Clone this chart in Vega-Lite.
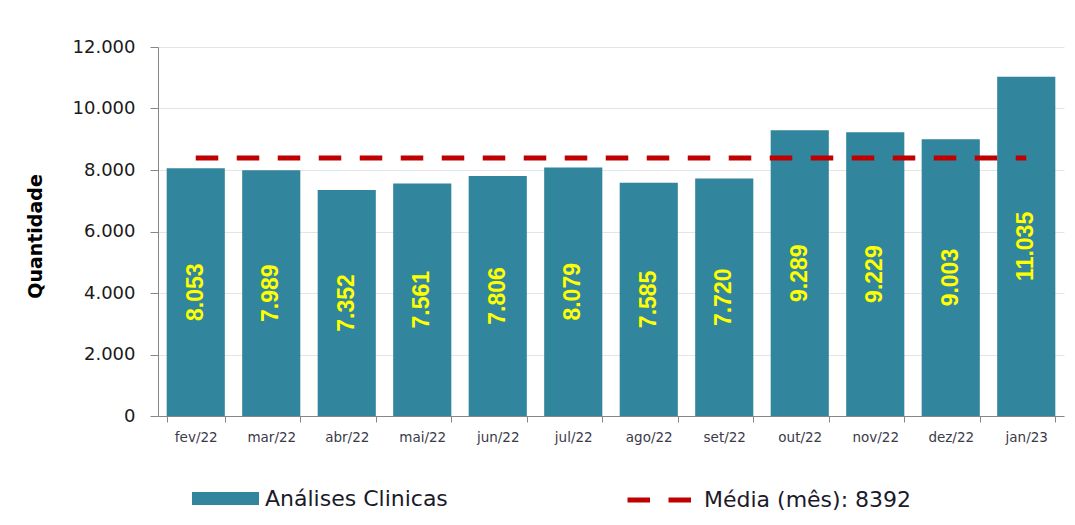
{
  "$schema": "https://vega.github.io/schema/vega-lite/v6.json",
  "width": 906,
  "height": 369,
  "autosize": {"type": "none"},
  "padding": {"left": 158, "top": 47, "right": 11, "bottom": 109},
  "background": "#ffffff",
  "config": {
    "view": {"stroke": null},
    "locale": {"number": {"decimal": ",", "thousands": ".", "grouping": [3], "currency": ["R$", ""]}},
    "font": "DejaVu Sans"
  },
  "datasets": {
    "meses": [
      {"mes": "fev/22", "valor": 8053},
      {"mes": "mar/22", "valor": 7989},
      {"mes": "abr/22", "valor": 7352},
      {"mes": "mai/22", "valor": 7561},
      {"mes": "jun/22", "valor": 7806},
      {"mes": "jul/22", "valor": 8079},
      {"mes": "ago/22", "valor": 7585},
      {"mes": "set/22", "valor": 7720},
      {"mes": "out/22", "valor": 9289},
      {"mes": "nov/22", "valor": 9229},
      {"mes": "dez/22", "valor": 9003},
      {"mes": "jan/23", "valor": 11035}
    ],
    "media": [
      {"serie": "Média (mês): 8392", "inicio": "fev/22", "fim": "jan/23", "valor": 8392}
    ]
  },
  "layer": [
    {
      "data": {"name": "meses"},
      "mark": {"type": "bar"},
      "encoding": {
        "x": {
          "field": "mes", "type": "ordinal", "sort": null, "title": null,
          "scale": {
            "domain": ["fev/22","mar/22","abr/22","mai/22","jun/22","jul/22","ago/22","set/22","out/22","nov/22","dez/22","jan/23"],
            "paddingInner": 0.23, "paddingOuter": 0.115
          },
          "axis": {
            "labelAngle": 0, "labelFont": "DejaVu Sans", "labelFontSize": 13.5, "labelColor": "#3a3a48",
            "labelPadding": 8, "tickBand": "extent", "tickSize": 6, "tickColor": "#868686",
            "domainColor": "#868686", "domainWidth": 1, "grid": false
          }
        },
        "y": {
          "field": "valor", "type": "quantitative", "title": "Quantidade",
          "scale": {"domain": [0, 12000], "nice": false},
          "axis": {
            "values": [0, 2000, 4000, 6000, 8000, 10000, 12000],
            "format": ",.0f",
            "labelFont": "DejaVu Sans", "labelFontSize": 18, "labelColor": "#1a1a1a", "labelPadding": 15,
            "tickSize": 8, "tickColor": "#868686", "domainColor": "#868686",
            "grid": true, "gridColor": "#e4e4e4", "gridWidth": 1,
            "titleFont": "DejaVu Sans", "titleFontSize": 19, "titleFontWeight": "bold", "titleColor": "#000000",
            "titleAngle": 270, "titleX": -123, "titleY": 189, "titleAlign": "center", "titleBaseline": "middle"
          }
        },
        "fill": {
          "datum": "Análises Clinicas", "type": "nominal",
          "scale": {"range": ["#31859C"]},
          "legend": {
            "title": null, "orient": "none", "legendX": 34, "legendY": 418,
            "symbolType": "M-1,-0.194L1,-0.194L1,0.194L-1,0.194Z", "symbolSize": 4489,
            "symbolStrokeWidth": 0, "symbolOpacity": 1, "labelLimit": 500,
            "labelFont": "DejaVu Sans", "labelFontSize": 22, "labelColor": "#1a1a2a", "labelOffset": 6
          }
        }
      }
    },
    {
      "data": {"name": "meses"},
      "transform": [{"calculate": "datum.valor / 2", "as": "meio"}],
      "mark": {
        "type": "text", "angle": 270, "align": "center", "baseline": "middle",
        "font": "Liberation Sans", "fontWeight": "bold", "fontSize": 23,
        "color": "#FFFF00"
      },
      "encoding": {
        "x": {"field": "mes", "type": "ordinal", "sort": null, "title": null},
        "y": {"field": "meio", "type": "quantitative", "title": "Quantidade"},
        "text": {"field": "valor", "type": "quantitative", "format": ",.0f"}
      }
    },
    {
      "data": {"name": "media"},
      "mark": {"type": "rule", "strokeWidth": 5, "color": "#C00000"},
      "encoding": {
        "x": {"field": "inicio", "type": "ordinal", "sort": null, "title": null},
        "x2": {"field": "fim"},
        "y": {"field": "valor", "type": "quantitative", "title": "Quantidade"},
        "strokeDash": {
          "field": "serie", "type": "nominal",
          "scale": {"range": [[22.5, 18.5]]},
          "legend": {
            "title": null, "orient": "none", "legendX": 467, "legendY": 418,
            "symbolType": "stroke", "symbolSize": 4225, "symbolStrokeColor": "#C00000",
            "symbolStrokeWidth": 5, "symbolDash": [24, 17], "labelLimit": 500,
            "labelFont": "DejaVu Sans", "labelFontSize": 22, "labelColor": "#1a1a2a", "labelOffset": 9
          }
        }
      }
    }
  ]
}
